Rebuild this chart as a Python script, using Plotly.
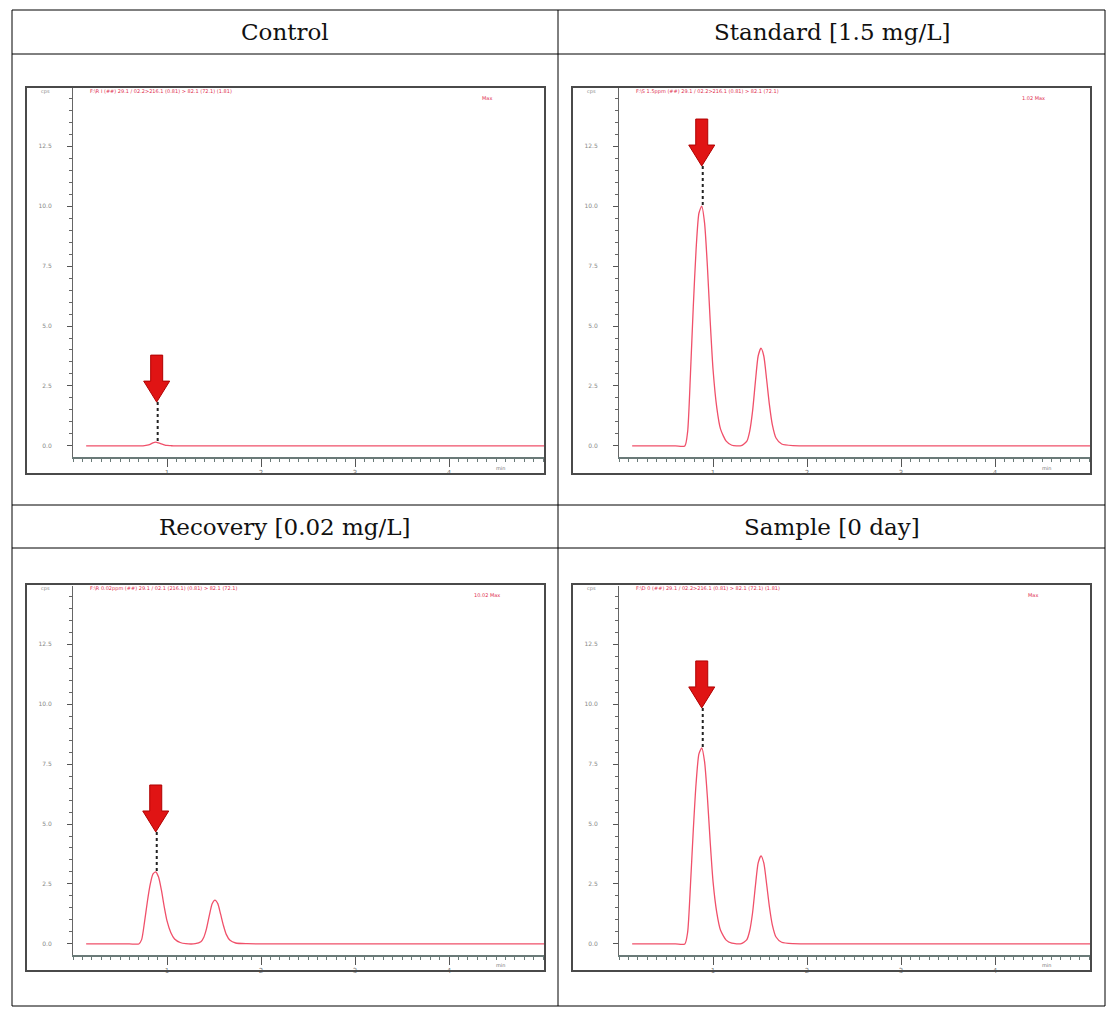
import plotly.graph_objects as go

# ---------------- data ----------------
panel_titles = ["Control", "Standard [1.5 mg/L]", "Recovery [0.02 mg/L]", "Sample [0 day]"]
header_texts = [
    "F:\\R I (##) 29.1 / 02.2>216.1 (0.81) > 82.1 (72.1) (1.81)",
    "F:\\S 1.5ppm (##) 29.1 / 02.2>216.1 (0.81) > 82.1 (72.1)",
    "F:\\R 0.02ppm (##) 29.1 / 02.1 (216.1) (0.81) > 82.1 (72.1)",
    "F:\\D 0 (##) 29.1 / 02.2>216.1 (0.81) > 82.1 (72.1) (1.81)",
]
max_texts = ["Max", "1.02 Max", "10.02 Max", "Max"]

time_min = [0.14, 0.60, 0.70, 0.73, 0.76, 0.79, 0.82, 0.85, 0.88, 0.91, 0.94, 0.97,
            1.00, 1.04, 1.08, 1.14, 1.20, 1.30, 1.36, 1.39, 1.42, 1.45, 1.48, 1.51,
            1.54, 1.57, 1.60, 1.63, 1.67, 1.73, 1.85, 2.20, 5.02]

control_signal = [0, 0, 0, 0, 0.01, 0.03, 0.07, 0.13, 0.16, 0.13, 0.09, 0.05,
                  0.02, 0.01, 0, 0, 0, 0, 0, 0, 0, 0, 0, 0,
                  0, 0, 0, 0, 0, 0, 0, 0, 0]
standard_signal = [0, 0, 0, 0.6, 3.0, 5.8, 8.2, 9.7, 10.0, 9.3, 7.5, 5.2,
                   3.2, 1.6, 0.7, 0.2, 0.03, 0.01, 0.2, 0.61, 1.43, 2.65, 3.75, 4.08,
                   3.75, 2.77, 1.71, 0.9, 0.33, 0.08, 0.01, 0, 0]
recovery_signal = [0, 0, 0, 0.18, 0.9, 1.74, 2.46, 2.91, 3.0, 2.79, 2.25, 1.56,
                   0.96, 0.48, 0.21, 0.06, 0.01, 0.01, 0.09, 0.27, 0.64, 1.19, 1.68, 1.83,
                   1.68, 1.24, 0.77, 0.4, 0.15, 0.04, 0.01, 0, 0]
sample_signal = [0, 0, 0, 0.49, 2.45, 4.74, 6.7, 7.92, 8.17, 7.6, 6.13, 4.25,
                 2.61, 1.31, 0.57, 0.16, 0.03, 0.01, 0.18, 0.55, 1.28, 2.39, 3.38, 3.67,
                 3.38, 2.5, 1.54, 0.81, 0.29, 0.07, 0.01, 0, 0]

# marked peak (retention time, apex intensity) for each panel
marked_peak_time = [0.89, 0.88, 0.88, 0.88]
marked_peak_height = [0.16, 10.0, 3.0, 8.17]

y_tick_vals = [0.0, 2.5, 5.0, 7.5, 10.0, 12.5]
y_tick_text = ["0.0", "2.5", "5.0", "7.5", "10.0", "12.5"]
x_tick_vals = [1, 2, 3, 4]
x_tick_text = ["1", "2", "3", "4"]

signals = [control_signal, standard_signal, recovery_signal, sample_signal]

# ---------------- layout geometry ----------------
W, H = 1111, 1019
def px(x): return x / W
def py(y): return 1 - y / H

col_axis = [(73, 545), (619, 1091)]
col_frame = [(26, 545), (572, 1091)]
row_axis = [(457, 88), (955, 586)]
row_frame = [(474, 87), (971, 584)]
row_off = [0, 497]

fig = go.Figure()
layout = dict(
    width=W, height=H, margin=dict(l=0, r=0, t=0, b=0),
    paper_bgcolor="white", plot_bgcolor="white", showlegend=False,
)
shapes = []
annotations = []

line_color = "#f0506a"
for i in range(4):
    r, c = divmod(i, 2)
    n = "" if i == 0 else str(i + 1)
    xa, ya = "x" + n, "y" + n
    fig.add_trace(go.Scatter(x=time_min, y=signals[i], mode="lines",
                             line=dict(color=line_color, width=1.3, shape="spline", smoothing=0.6),
                             xaxis=xa, yaxis=ya, hoverinfo="skip"))
    layout["xaxis" + n] = dict(
        domain=[px(col_axis[c][0]), px(col_axis[c][1])], range=[0, 5.02], anchor=ya,
        showgrid=False, zeroline=False, showline=True, linecolor="#6a7a78", linewidth=2,
        tickvals=x_tick_vals, ticktext=x_tick_text, ticks="outside", ticklen=8, tickwidth=1,
        tickcolor="#555", tickfont=dict(size=7, color="#777", family="DejaVu Sans"),
        minor=dict(dtick=0.1, ticks="outside", ticklen=3, tickcolor="#6a7a78", tickwidth=1),
        fixedrange=True,
    )
    layout["yaxis" + n] = dict(
        domain=[py(row_axis[r][0]), py(row_axis[r][1])], range=[-0.46, 14.92], anchor=xa,
        showgrid=False, zeroline=False, showline=True, linecolor="#666", linewidth=1,
        tickvals=y_tick_vals, ticktext=y_tick_text, ticks="outside", ticklen=5, tickwidth=1,
        tickcolor="#555", ticklabelstandoff=14,
        tickfont=dict(size=6, color="#888", family="DejaVu Sans"),
        minor=dict(dtick=0.5, ticks="outside", ticklen=3, tickcolor="#666", tickwidth=1),
        fixedrange=True,
    )
    # chromatogram frame
    fx0, fx1 = col_frame[c]
    fyb, fyt = row_frame[r]
    shapes.append(dict(type="rect", xref="paper", yref="paper",
                       x0=px(fx0), x1=px(fx1), y0=py(fyb), y1=py(fyt),
                       line=dict(color="#4a4a4a", width=2), fillcolor="rgba(0,0,0,0)", layer="above"))
    # dotted marker line above apex
    shapes.append(dict(type="line", xref=xa, yref=ya, xsizemode="pixel", ysizemode="pixel",
                       xanchor=marked_peak_time[i], yanchor=marked_peak_height[i],
                       x0=1, x1=1, y0=1, y1=40,
                       line=dict(color="#222", width=2, dash="dot")))
    # red arrow
    shapes.append(dict(type="path", xref=xa, yref=ya, xsizemode="pixel", ysizemode="pixel",
                       xanchor=marked_peak_time[i], yanchor=marked_peak_height[i],
                       path="M 0,40 L -13,61 L -6,61 L -6,87 L 6,87 L 6,61 L 13,61 Z",
                       fillcolor="#e01414", line=dict(color="#b00000", width=1), layer="above"))
    # tiny texts inside chromatogram
    annotations.append(dict(text=header_texts[i], xref="paper", yref="paper",
                            x=px(col_axis[c][0] + 15), y=py(91 + row_off[r]),
                            xanchor="left", yanchor="middle", showarrow=False,
                            font=dict(size=5, color="#e03050", family="DejaVu Sans")))
    annotations.append(dict(text=max_texts[i], xref="paper", yref="paper",
                            x=px(col_axis[c][1] - 58), y=py(98 + row_off[r]),
                            xanchor="center", yanchor="middle", showarrow=False,
                            font=dict(size=5, color="#e03050", family="DejaVu Sans")))
    annotations.append(dict(text="cps", xref="paper", yref="paper",
                            x=px(col_axis[c][0] - 28), y=py(91 + row_off[r]),
                            xanchor="center", yanchor="middle", showarrow=False,
                            font=dict(size=5, color="#888", family="DejaVu Sans")))
    annotations.append(dict(text="min", xref="paper", yref="paper",
                            x=px(col_axis[c][1] - 45), y=py(468 + row_off[r]),
                            xanchor="center", yanchor="middle", showarrow=False,
                            font=dict(size=5, color="#777", family="DejaVu Sans")))
    # header
    annotations.append(dict(text=panel_titles[i], xref="paper", yref="paper",
                            x=px(285 if c == 0 else 831.5), y=py(32 + 495 * r),
                            xanchor="center", yanchor="middle", showarrow=False,
                            font=dict(size=23, color="#111", family="DejaVu Serif")))

# table grid
tl = dict(color="#000", width=1)
for yy in [10, 54, 505, 548, 1006]:
    shapes.append(dict(type="line", xref="paper", yref="paper",
                       x0=px(12), x1=px(1105), y0=py(yy), y1=py(yy), line=tl))
for xx in [12, 558, 1105]:
    shapes.append(dict(type="line", xref="paper", yref="paper",
                       x0=px(xx), x1=px(xx), y0=py(10), y1=py(1006), line=tl))

layout["shapes"] = shapes
layout["annotations"] = annotations
fig.update_layout(**layout)
fig.write_html("out.html")
